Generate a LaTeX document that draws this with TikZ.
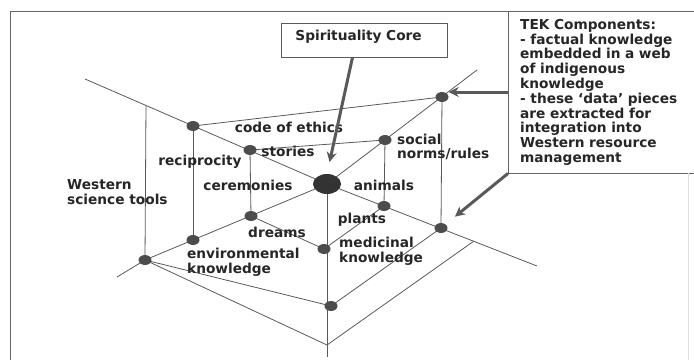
\documentclass[tikz,border=0pt]{standalone}
\usepackage{fontspec}
\setmainfont{DejaVu Sans}
\usetikzlibrary{arrows.meta,positioning,shapes.geometric}

\begin{document}
\begin{tikzpicture}[x=1pt, y=-1pt,
    every node/.style={font=\bfseries\fontsize{13.7}{14.8}\selectfont, text=black!85, inner sep=0pt},
    web/.style={draw=black!65, line width=0.8pt},
    frameline/.style={draw=black!60, line width=1pt},
    dot/.style={ellipse, fill=black!70, minimum width=13pt, minimum height=10pt},
    hub/.style={ellipse, fill=black!80, minimum width=28pt, minimum height=20pt},
    bigarrow/.style={draw=black!65, line width=3pt, -{Stealth[length=10pt,width=10pt]}}]
    \useasboundingbox (0,0) rectangle (694,360);

    % axes of the web
    \coordinate (P0) at (85,79);
    \coordinate (H) at (327,184);
    \coordinate (P1) at (537,266);
    \coordinate (LL) at (117,277);
    \coordinate (UR) at (477,70);
    \coordinate (UL3) at (146,105);
    \coordinate (UL2) at (193,126);
    \coordinate (UL1) at (250,150);
    \coordinate (UR1) at (385,140);
    \coordinate (UR2) at (442,97);
    \coordinate (DR1) at (384,206);
    \coordinate (DR2) at (441,228);
    \coordinate (R3) at (474,241);
    \coordinate (DL1) at (251,216);
    \coordinate (DL2) at (193,240);
    \coordinate (DL3) at (145,260);
    \coordinate (B1) at (324,249);
    \coordinate (B2) at (331,306);
    \coordinate (B3) at (327,345);
    \coordinate (B) at (327,357);

    % frame and boxes
    \draw[frameline] (10,360) -- (10,11) -- (694,11);
    \node[draw=black!65, line width=0.8pt, anchor=north west, text width=138pt, align=left,
          inner xsep=14pt, inner ysep=7pt, text height=10pt, text depth=10pt] (core) at (281,23) {Spirituality Core};
    \node[anchor=north west, text width=162pt, align=left, inner xsep=12pt, minimum height=162pt] (tek) at (508,11)
        {TEK Components:\\- factual knowledge\\embedded in a web\\of indigenous\\knowledge\\- these ‘data’ pieces\\are extracted for\\integration into\\Western resource\\management};
    \draw[frameline] (tek.north west) -- (tek.south west) -- (tek.south east);
    \draw[black!12, line width=0.8pt] ([xshift=-6pt]tek.south east) -- ++(0,187);

    % web lines
    \draw[web] (P0) -- (H) -- (P1);
    \draw[web] (LL) -- (DL3) -- (H) -- (UR);
    \draw[web] (UL3) -- (DL3);
    \draw[web] (UL2) -- (DL2);
    \draw[web] (UL1) -- (DL1);
    \draw[web] (H) -- (B);
    \draw[web] (UR1) -- (DR1);
    \draw[web] (UR2) -- (DR2);
    \draw[web] (UL1) -- (UR1);
    \draw[web] (DR1) -- (B1) -- (DL1);
    \draw[web] (UL2) -- (UR2);
    \draw[web] (DR2) -- (B2) -- (DL3);
    \draw[web] (DL3) -- (B3) -- (R3);

    % data points
    \node[dot] (d-ul1) at (UL1) {};
    \node[dot] (d-ul2) at (UL2) {};
    \node[dot] (d-ur1) at (UR1) {};
    \node[dot] (d-ur2) at (UR2) {};
    \node[dot] (d-dr1) at (DR1) {};
    \node[dot] (d-dr2) at (DR2) {};
    \node[dot] (d-dl1) at (DL1) {};
    \node[dot] (d-dl2) at (DL2) {};
    \node[dot] (d-dl3) at (DL3) {};
    \node[dot] (d-b1) at (B1) {};
    \node[dot] (d-b2) at (B2) {};
    \node[hub] (hub) at (H) {};

    % labels
    \node (ethics) at (289,127) {code of ethics};
    \node (stories) at (288,151) {stories};
    \node (recip) at (200,162) {reciprocity};
    \node (cerem) at (248,185) {ceremonies};
    \node[anchor=west, align=left] (western) at (67,192) {Western\\science tools};
    \node (animals) at (384,185) {animals};
    \node[anchor=west, align=left] (social) at (397,147) {social\\norms/rules};
    \node (plants) at (362,220) {plants};
    \node[anchor=west, align=left] (medic) at (339,251) {medicinal\\knowledge};
    \node (dreams) at (277,232) {dreams};
    \node[anchor=west, align=left] (envir) at (187,262) {environmental\\knowledge};

    % arrows
    \draw[bigarrow, shorten >=12pt] ([xshift=-12pt]core.south) -- (hub.north);
    \draw[bigarrow] ([yshift=5pt]tek.west |- d-ur2) -- ([yshift=5pt]d-ur2.east);
    \draw[bigarrow, shorten >=12pt] (tek.south west) -- (d-dr2);
\end{tikzpicture}
\end{document}
